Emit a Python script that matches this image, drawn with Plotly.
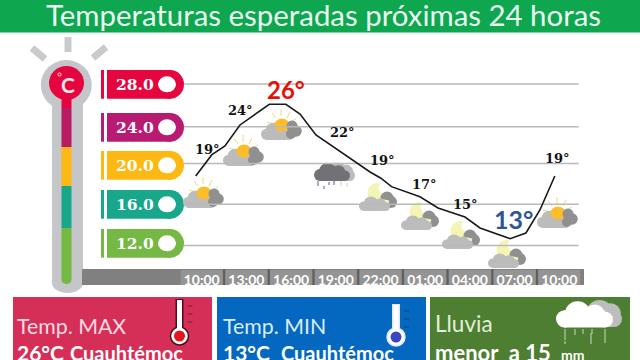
import plotly.graph_objects as go

# ---------- data ----------
hours = [-0.4, 0.67, 1.56, 2.57, 4.54, 5.65, 6.6, 7.67, 11.3, 12.0, 12.74, 14.65, 15.86, 17.67, 18.68, 20.7, 21.76, 22.7, 23.7]
temps = [18.86, 20.95, 21.84, 23.93, 25.99, 25.99, 25.02, 22.93, 19.26, 18.66, 17.8, 16.8, 15.68, 14.78, 13.69, 12.63, 13.19, 15.48, 18.86]
tick_hours = [0, 3, 6, 9, 12, 15, 18, 21, 24]
tick_labels = ["10:00", "13:00", "16:00", "19:00", "22:00", "01:00", "04:00", "07:00", "10:00"]
grid_levels = [28, 23.75, 20.1, 16.05, 11.95]
level_labels = ["28.0", "24.0", "20.0", "16.0", "12.0"]
level_colors = ["#e5063f", "#b71c72", "#fdb813", "#18a78b", "#75b843"]
temp_labels = ["19°", "24°", "26°", "22°", "19°", "17°", "15°", "13°", "19°"]

# ---------- pixel helpers ----------
W, H = 640, 360
px = lambda x: x / W
py = lambda y: 1 - y / H
shapes, notes = [], []

def rect(x0, y0, x1, y1, c):
    shapes.append(dict(type="rect", xref="paper", yref="paper", x0=px(x0), x1=px(x1), y0=py(y0), y1=py(y1),
                       fillcolor=c, line=dict(width=0), layer="below"))

def circ(cx, cy, rx, ry, c, lc=None, lw=0):
    shapes.append(dict(type="circle", xref="paper", yref="paper", x0=px(cx - rx), x1=px(cx + rx), y0=py(cy + ry), y1=py(cy - ry),
                       fillcolor=c, line=dict(width=lw, color=lc or c), layer="below"))

def seg(x0, y0, x1, y1, c, w):
    shapes.append(dict(type="line", xref="paper", yref="paper", x0=px(x0), x1=px(x1), y0=py(y0), y1=py(y1),
                       line=dict(color=c, width=w), layer="below"))

def text(x, y, s, size, color, font="Lato", bold=False, anchor="left"):
    notes.append(dict(xref="paper", yref="paper", x=px(x), y=py(y), text=f"<b>{s}</b>" if bold else s, showarrow=False,
                      xanchor=anchor, yanchor="middle", font=dict(family=font, size=size, color=color),
                      borderpad=0, borderwidth=0))

def cloud(l, b, w, c, frac=0.5):
    """cloud with left edge l, bottom b, width w"""
    h = w * frac
    rect(l + h * .3, b - h * .65, l + w - h * .3, b, c)
    circ(l + h * .33, b - h * .33, h * .33, h * .33, c)
    circ(l + w - h * .3, b - h * .3, h * .3, h * .3, c)
    circ(l + w * .38, b - h * .55, h * .48, h * .45, c)
    circ(l + w * .68, b - h * .5, h * .38, h * .38, c)

def sun_icon(l, b):
    cx, cy = l + 21, b - 15
    for dx0, dy0, dx1, dy1 in [(-15, -3, -8, -1), (-10, -12, -6, -7), (-1, -16, -1, -9), (8, -13, 5, -7), (14, -6, 8, -3)]:
        seg(cx + dx0, cy + dy0, cx + dx1, cy + dy1, "#ecd98a", 1)
    cloud(l, b, 33, "#bcbcbc", 0.52)
    circ(cx, cy, 7.5, 6.5, "#fdbd2a")
    circ(l + 31, b - 14, 5.5, 5.5, "#909090")
    circ(l + 35, b - 9, 5.8, 5.8, "#909090")
    circ(l + 30, b - 6, 5, 5, "#909090")

def moon_icon(l, b):
    cx, cy = l + 18, b - 18
    circ(cx, cy, 9.5, 10, "#f4f4b4")
    circ(cx + 8, cy - 5, 6.5, 6.5, "#ffffff")
    circ(l + 28, b - 13, 6.5, 6.5, "#909090")
    circ(l + 32, b - 9, 6, 6, "#909090")
    seg(cx + 2, cy + 7, cx + 12, cy + 9, "#f4f4b4", 3)
    cloud(l, b, 31, "#bcbcbc", 0.47)

def rain_icon(l, b):
    cloud(l + 14, b, 27, "#bcbcbc", 0.68)
    cloud(l, b, 36, "#717176", 0.5)
    for dx, t, e in [(4, 0, 5), (10, 5, 8), (15, 1, 4), (20, 0, 4)]:
        seg(l + dx, b + t, l + dx, b + e, "#5b5b96", 1)
    for dx, t, e in [(27, 0, 5), (33, 2, 6)]:
        seg(l + dx, b + t, l + dx, b + e, "#d0d0d0", 1)

# ---------- decorations ----------
rect(0, 0, 640, 32.5, "#0ea64f")
text(323.5, 15, "Temperaturas esperadas próximas 24 horas", 29.4, "#e9fbef", anchor="center")

# thermometer
for a in [(32, 48, 45, 59), (68, 37, 68, 52), (106, 47, 93, 58)]:
    seg(*a, "#c8cacc", 7)
circ(66.3, 85, 25.5, 25, "#c4c6c9")
rect(52, 85, 83, 283, "#c4c6c9")
circ(67.5, 283, 15.5, 10, "#c4c6c9")
rect(82, 269, 584, 285, "#808080")
rect(61.5, 95, 71.5, 108, "#e5063f")
rect(61.5, 108, 71.5, 147, "#b71c65")
rect(61.5, 147, 71.5, 186, "#fdb813")
rect(61.5, 186, 71.5, 228, "#18a78b")
rect(61.5, 228, 71.5, 280, "#75b843")
circ(66.5, 280, 5, 4, "#75b843")
circ(66.5, 83, 17.5, 17, "#e5063f")
text(67.5, 84.5, "C", 21, "#fbe6ea", anchor="center", bold=True)
circ(59.5, 74.5, 1.6, 1.6, "#e5063f", "#fbe6ea", 1)

# level pills
pill_tops = [70, 113, 151, 190, 229]
for top, lab, col in zip(pill_tops, level_labels, level_colors):
    bot = top + 28.7
    mid = (top + bot) / 2
    rect(101, top, 104, bot, col)
    rect(107, top, 171, bot, col)
    circ(170, mid, 14, 14.35, col)
    circ(167, mid, 9, 8, "#ffffff")
    text(134.5, mid + .5, lab, 15.5, "#ffffff", font="DejaVu Serif", bold=True, anchor="center")

# tick label boxes
for i in range(9):
    cx = 201.7 + 44.7 * i
    rect(cx - 21, 270, cx + 21, 285, "#949494")
    if i:
        rect(cx - 23.3, 269, cx - 21.3, 285, "#5f5f5f")

# weather icons
for l, b in [(183, 208), (223, 166), (261, 140), (537, 228)]:
    sun_icon(l, b)
rain_icon(314, 181)
for l, b in [(359, 211), (401, 230), (442, 249), (488, 268)]:
    moon_icon(l, b)

# bottom panels
rect(13, 297, 212, 360, "#d62f57")
rect(217, 297, 426, 360, "#0468c0")
rect(430, 297, 630, 360, "#4e7e32")
text(17, 326, "Temp. MAX", 21.3, "#f8dbe2")
text(17, 352, "26°C", 21, "#ffffff", bold=True)
text(70, 353, "Cuauhtémoc", 20, "#ffffff", bold=True)
text(223, 326, "Temp. MIN", 21.3, "#d9ecfb")
text(223, 352, "13°C", 21, "#ffffff", bold=True)
text(281, 353, "Cuauhtémoc", 20, "#ffffff", bold=True)
text(435, 323, "Lluvia", 22.5, "#e2f0d6")
text(435, 352, "menor  a 15", 22, "#ffffff", bold=True)
text(561, 354, "mm", 14, "#ffffff", bold=True)

# panel thermometers
for cx, cy, edge, fill, tick in [(179.5, 336, "#4a0f1f", "#e3141e", "#7c2036"), (396, 337, "#dfe6f5", "#3c46c0", "#0a3a70")]:
    top = cy - 37 if cx < 200 else cy - 33
    seg(cx, top, cx, cy - 5, edge, 8)
    circ(cx, cy, 9, 9, "#ffffff", edge, 1.5)
    seg(cx, top + 1, cx, cy - 3, "#ffffff", 5)
    circ(cx, cy, 5.5, 5.5, fill)
    for k in range(3):
        seg(cx + 8, top + 7 + k * 8, cx + 13, top + 7 + k * 8, tick, 1)

cloud(586, 327, 36, "#bdbdbd", 0.75)
cloud(556, 327.5, 57, "#ffffff", 0.46)
for x, y0, y1 in [(565, 329, 340), (575, 329, 335), (583, 329, 334), (592, 329, 334), (591, 333, 344), (605, 329, 343), (565, 341, 344)]:
    seg(x, y0, x, y1, "#c9d8bd", 1)

# temperature labels
label_px = [(207, 149), (240, 110), (286, 89), (342, 132), (382, 160), (424, 184), (465, 204), (513, 219), (557, 158)]
for (x, y), lab in zip(label_px, temp_labels):
    if lab == "26°" and x == 286:
        text(x, y, lab, 24, "#e3120b", bold=True, anchor="center")
    elif lab == "13°":
        text(x, y, lab, 25, "#2f5597", bold=True, anchor="center")
    else:
        text(x, y, lab, 13, "#111111", font="DejaVu Serif", bold=True, anchor="center")

# ---------- figure ----------
fig = go.Figure()
for g in grid_levels:
    fig.add_trace(go.Scatter(x=[-1.2, 25.3], y=[g, g], mode="lines", line=dict(color="#b9b9b9", width=1.5), hoverinfo="skip"))
fig.add_trace(go.Scatter(x=hours, y=temps, mode="lines", line=dict(color="#1a1a1a", width=1.6)))

x_per_px = 1 / 14.9
fig.update_layout(
    width=W, height=H, margin=dict(l=0, r=0, t=0, b=0), showlegend=False,
    paper_bgcolor="#ffffff", plot_bgcolor="rgba(0,0,0,0)", shapes=shapes, annotations=notes,
    xaxis=dict(range=[-201.7 * x_per_px, (640 - 201.7) * x_per_px], tickvals=tick_hours, ticktext=tick_labels,
               showgrid=False, zeroline=False, showline=False, ticks="", ticklabelstandoff=0,
               tickfont=dict(family="Lato", size=14, color="#ffffff", weight="bold")),
    yaxis=dict(domain=[90 / 360, 1], range=[12 - 25 / 10.06, 28 + 84 / 10.06], showgrid=False, zeroline=False,
               showline=False, showticklabels=False, ticks=""),
)
fig.write_html("out.html", config=dict(displayModeBar=False),
               post_script="document.documentElement.style.margin='0';document.body.style.margin='0';document.body.style.overflow='hidden';")
